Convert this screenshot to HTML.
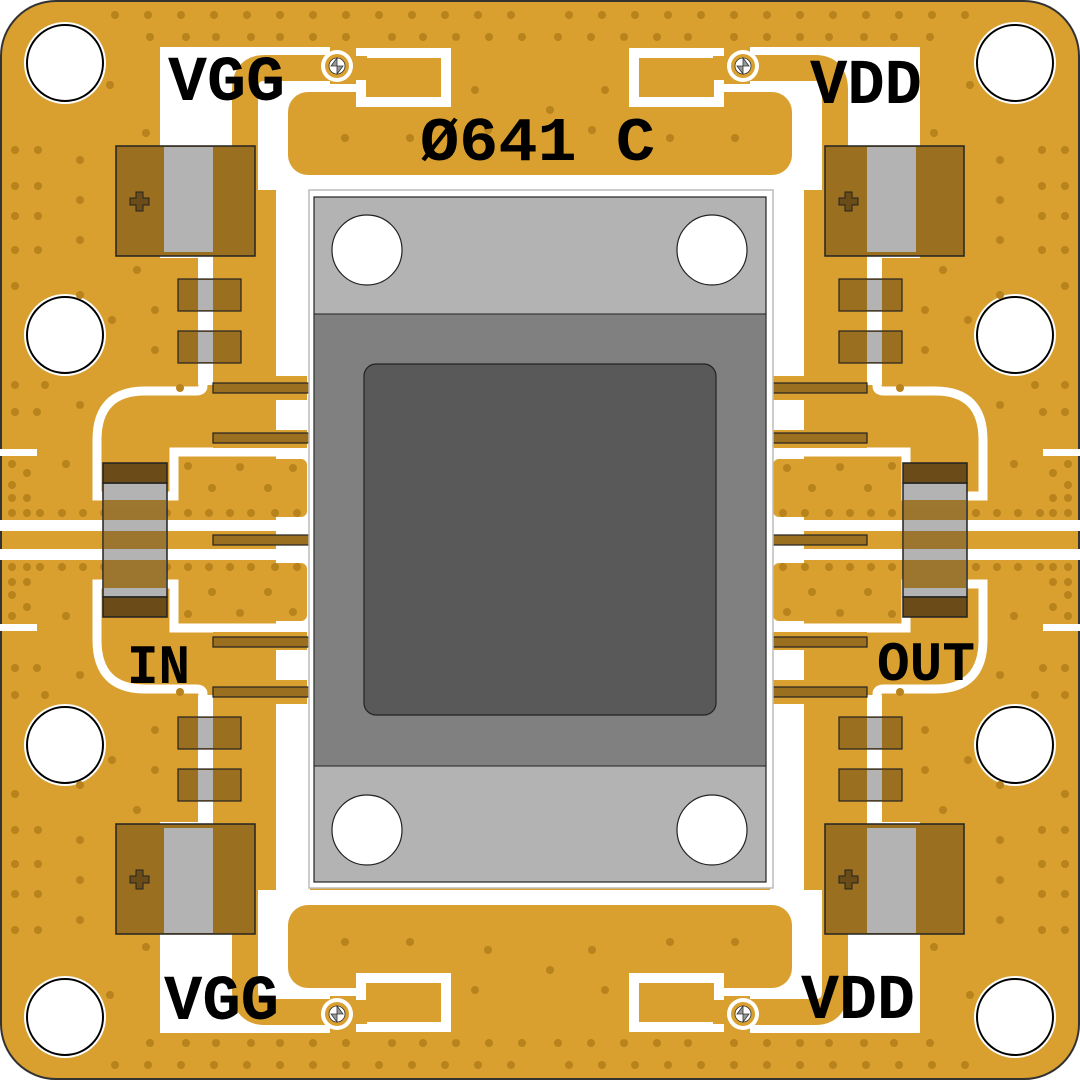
<!DOCTYPE html>
<html><head><meta charset="utf-8"><style>html,body{margin:0;padding:0;background:#fff}svg{display:block}</style></head><body>
<svg width="1080" height="1080" viewBox="0 0 1080 1080" xmlns="http://www.w3.org/2000/svg">
<defs>
<g id="q">
  <rect x="160" y="47" width="170" height="60" fill="#fff"/>
  <rect x="160" y="47" width="72" height="211" fill="#fff"/>
  <rect x="258" y="84" width="193" height="106" fill="#fff"/>
  <rect x="258" y="175" width="282" height="15" fill="#fff"/>
  <rect x="276" y="140" width="34" height="400" fill="#fff"/>
  <rect x="258" y="84" width="30" height="70" fill="#fff"/>
  <rect x="198" y="250" width="15" height="135" fill="#fff"/>
  <path d="M203 380 V386 Q203 391 196 391 H145 Q97 391 97 440 V496 H174 V452 H300" fill="none" stroke="#fff" stroke-width="9"/>
  <rect x="0" y="449" width="37" height="7" fill="#fff"/>
  <rect x="0" y="520" width="310" height="11" fill="#fff"/>
  <rect x="213" y="376" width="94" height="24" fill="#d9a030"/>
  <rect x="213" y="430" width="94" height="18" fill="#d9a030"/>
  <rect x="182" y="459" width="125" height="58" rx="6" fill="#d9a030"/>
  <path d="M340 68 H265 Q245 68 245 90 V260" fill="none" stroke="#d9a030" stroke-width="26"/>
  <rect x="213" y="250" width="63" height="135" fill="#d9a030"/>
  <rect x="288" y="92" width="300" height="83" rx="20" fill="#d9a030"/>
  <rect x="356" y="48" width="95" height="59" fill="#fff"/>
  <rect x="366" y="58" width="75" height="39" fill="#d9a030"/>
  <rect x="337" y="56" width="30" height="24" fill="#d9a030"/>
  <circle cx="337" cy="66" r="16" fill="#fff"/>
  <circle cx="337" cy="66" r="12" fill="#d9a030"/>
  <circle cx="337" cy="66" r="8" fill="#fff" stroke="#333" stroke-width="0.8"/>
  <path d="M337 58 L331 66 H337 Z M337 74 L343 66 H337 Z" fill="#999" stroke="#333" stroke-width="0.8"/>
  <circle cx="65" cy="63" r="41" fill="#fff"/><circle cx="65" cy="63" r="38" fill="#fff" stroke="#000" stroke-width="2"/>
  <circle cx="65" cy="335" r="41" fill="#fff"/><circle cx="65" cy="335" r="38" fill="#fff" stroke="#000" stroke-width="2"/>
  <g fill="#b8821c">
    <circle cx="115" cy="15" r="4"/><circle cx="148" cy="15" r="4"/><circle cx="181" cy="15" r="4"/><circle cx="214" cy="15" r="4"/><circle cx="247" cy="15" r="4"/><circle cx="280" cy="15" r="4"/><circle cx="313" cy="15" r="4"/><circle cx="346" cy="15" r="4"/><circle cx="379" cy="15" r="4"/><circle cx="412" cy="15" r="4"/><circle cx="445" cy="15" r="4"/><circle cx="478" cy="15" r="4"/><circle cx="511" cy="15" r="4"/>
    <circle cx="150" cy="37" r="4"/><circle cx="186" cy="37" r="4"/><circle cx="216" cy="37" r="4"/><circle cx="251" cy="37" r="4"/><circle cx="280" cy="37" r="4"/><circle cx="313" cy="37" r="4"/><circle cx="346" cy="37" r="4"/><circle cx="392" cy="37" r="4"/><circle cx="423" cy="37" r="4"/><circle cx="456" cy="37" r="4"/><circle cx="489" cy="37" r="4"/><circle cx="522" cy="37" r="4"/>
    <circle cx="15" cy="150" r="4"/><circle cx="38" cy="150" r="4"/><circle cx="15" cy="186" r="4"/><circle cx="38" cy="186" r="4"/><circle cx="15" cy="216" r="4"/><circle cx="38" cy="216" r="4"/><circle cx="15" cy="250" r="4"/><circle cx="38" cy="250" r="4"/><circle cx="15" cy="286" r="4"/><circle cx="15" cy="385" r="4"/><circle cx="45" cy="385" r="4"/><circle cx="15" cy="412" r="4"/><circle cx="37" cy="412" r="4"/>
    <circle cx="80" cy="160" r="4"/><circle cx="80" cy="200" r="4"/><circle cx="80" cy="240" r="4"/><circle cx="110" cy="85" r="4"/><circle cx="146" cy="133" r="4"/><circle cx="112" cy="320" r="4"/><circle cx="155" cy="310" r="4"/><circle cx="155" cy="350" r="4"/><circle cx="137" cy="270" r="4"/><circle cx="80" cy="295" r="4"/><circle cx="180" cy="388" r="4"/><circle cx="80" cy="405" r="4"/>
    <circle cx="12" cy="513" r="4"/><circle cx="27" cy="513" r="4"/><circle cx="40" cy="513" r="4"/><circle cx="62" cy="513" r="4"/><circle cx="83" cy="513" r="4"/><circle cx="104" cy="513" r="4"/><circle cx="125" cy="513" r="4"/><circle cx="146" cy="513" r="4"/><circle cx="167" cy="513" r="4"/><circle cx="188" cy="513" r="4"/><circle cx="209" cy="513" r="4"/><circle cx="230" cy="513" r="4"/><circle cx="251" cy="513" r="4"/><circle cx="275" cy="513" r="4"/><circle cx="297" cy="513" r="4"/>
    <circle cx="12" cy="464" r="4"/><circle cx="27" cy="473" r="4"/><circle cx="12" cy="485" r="4"/><circle cx="12" cy="498" r="4"/><circle cx="27" cy="498" r="4"/><circle cx="66" cy="464" r="4"/><circle cx="188" cy="466" r="4"/><circle cx="240" cy="467" r="4"/><circle cx="293" cy="468" r="4"/><circle cx="212" cy="488" r="4"/><circle cx="268" cy="488" r="4"/>
    <circle cx="345" cy="138" r="4"/><circle cx="410" cy="138" r="4"/><circle cx="488" cy="130" r="4"/><circle cx="475" cy="90" r="4"/><circle cx="530" cy="110" r="4"/>
  </g>
  <rect x="178" y="279" width="63" height="32" fill="#9a7020" stroke="#222" stroke-width="1.2"/>
  <rect x="198" y="280" width="15" height="30" fill="#b3b3b3"/>
  <rect x="178" y="331" width="63" height="32" fill="#9a7020" stroke="#222" stroke-width="1.2"/>
  <rect x="198" y="332" width="15" height="30" fill="#b3b3b3"/>
  <rect x="116" y="146" width="139" height="110" fill="#9a7020" stroke="#222" stroke-width="1.5"/>
  <rect x="164" y="147" width="49" height="105" fill="#b3b3b3"/>
  <rect x="213" y="383" width="100" height="10" fill="#9a7020" stroke="#222" stroke-width="1.2"/>
  <rect x="213" y="433" width="100" height="10" fill="#9a7020" stroke="#222" stroke-width="1.2"/>
</g>
<path id="plus" d="M-4 -9 h7 v6 h6 v7 h-6 v6 h-7 v-6 h-6 v-7 h6 z" fill="#6b4c18" stroke="#222" stroke-width="1"/>
</defs>
<rect x="0" y="0" width="1080" height="1080" fill="#fff"/>
<rect x="1" y="1" width="1078" height="1078" rx="55" fill="#d9a030" stroke="#333" stroke-width="2"/>
<use href="#q"/>
<use href="#q" transform="translate(1080,0) scale(-1,1)"/>
<use href="#q" transform="translate(0,1080) scale(1,-1)"/>
<use href="#q" transform="translate(1080,1080) scale(-1,-1)"/>
<use href="#plus" x="140" y="201"/>
<use href="#plus" x="849" y="201"/>
<use href="#plus" x="140" y="879"/>
<use href="#plus" x="849" y="879"/>
<rect x="213" y="535" width="100" height="10" fill="#9a7020" stroke="#222" stroke-width="1.2"/>
<rect x="767" y="535" width="100" height="10" fill="#9a7020" stroke="#222" stroke-width="1.2"/>
<g stroke="#222" stroke-width="1.5">
  <rect x="103" y="483" width="64" height="114" fill="#b3b3b3"/>
  <rect x="103" y="463" width="64" height="20" fill="#6b4c18"/>
  <rect x="103" y="597" width="64" height="20" fill="#6b4c18"/>
  <rect x="903" y="483" width="64" height="114" fill="#b3b3b3"/>
  <rect x="903" y="463" width="64" height="20" fill="#6b4c18"/>
  <rect x="903" y="597" width="64" height="20" fill="#6b4c18"/>
</g>
<g fill="#9a7020" opacity="0.9">
  <rect x="104" y="500" width="62" height="20"/><rect x="104" y="531" width="62" height="18"/><rect x="104" y="560" width="62" height="28"/>
  <rect x="904" y="500" width="62" height="20"/><rect x="904" y="531" width="62" height="18"/><rect x="904" y="560" width="62" height="28"/>
</g>
<rect x="309" y="190" width="464" height="698" fill="#fff" stroke="#bbb" stroke-width="1.5"/>
<rect x="314" y="197" width="452" height="685" fill="#b3b3b3" stroke="#222" stroke-width="1.2"/>
<rect x="314" y="314" width="452" height="452" fill="#808080" stroke="#222" stroke-width="1"/>
<rect x="364" y="364" width="352" height="351" rx="12" fill="#595959" stroke="#222" stroke-width="1.2"/>
<g fill="#fff" stroke="#222" stroke-width="1.2">
  <circle cx="367" cy="250" r="35"/><circle cx="712" cy="250" r="35"/><circle cx="367" cy="830" r="35"/><circle cx="712" cy="830" r="35"/>
</g>
<g font-family="'Liberation Mono', monospace" font-weight="bold" fill="#000">
  <text x="168" y="100" font-size="64" textLength="117" lengthAdjust="spacingAndGlyphs">VGG</text>
  <text x="810" y="103" font-size="64" textLength="112" lengthAdjust="spacingAndGlyphs">VDD</text>
  <text x="420" y="160" font-size="62" textLength="235" lengthAdjust="spacingAndGlyphs">Ø641 C</text>
  <text x="127" y="683" font-size="56" textLength="63" lengthAdjust="spacingAndGlyphs">IN</text>
  <text x="877" y="680" font-size="56" textLength="98" lengthAdjust="spacingAndGlyphs">OUT</text>
  <text x="164" y="1019" font-size="64" textLength="115" lengthAdjust="spacingAndGlyphs">VGG</text>
  <text x="801" y="1018" font-size="64" textLength="114" lengthAdjust="spacingAndGlyphs">VDD</text>
</g>
</svg>
</body></html>
